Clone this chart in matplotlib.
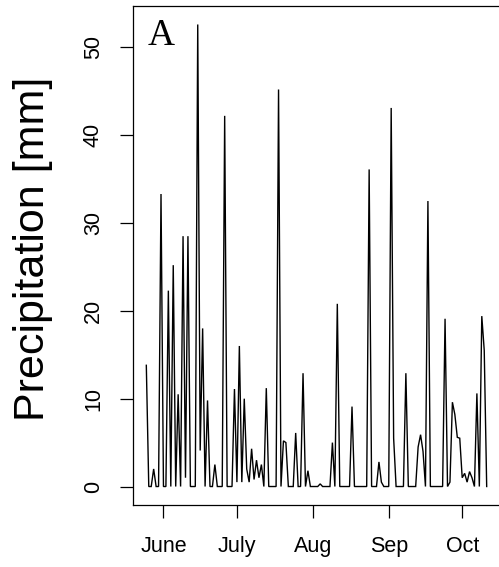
"""Daily precipitation panel (A) redrawn from a reference figure."""

import matplotlib

matplotlib.use("Agg")
import matplotlib.dates as mdates
import matplotlib.pyplot as plt
import pandas as pd

# daily precipitation [mm], one value per day starting at START_DATE
START_DATE = "2013-05-25"
precip_mm = [
    13.8, 0.0, 0.0, 2.0, 0.0, 0.0, 33.3, 0.0, 0.0, 22.3,
    0.0, 25.2, 0.0, 10.5, 0.0, 28.5, 1.0, 28.5, 0.0, 0.0,
    0.0, 52.6, 4.1, 18.0, 0.0, 9.8, 0.0, 0.0, 2.5, 0.0,
    0.0, 0.0, 42.2, 0.0, 0.0, 0.0, 11.1, 0.5, 16.0, 0.5,
    10.0, 2.0, 0.5, 4.3, 0.8, 3.0, 1.0, 2.5, 0.0, 11.2,
    0.0, 0.0, 0.0, 0.0, 45.2, 0.0, 5.2, 5.0, 0.0, 0.0,
    0.0, 6.1, 0.0, 0.0, 12.9, 0.0, 1.8, 0.0, 0.0, 0.0,
    0.0, 0.3, 0.0, 0.0, 0.0, 0.0, 5.0, 0.0, 20.8, 0.0,
    0.0, 0.0, 0.0, 0.0, 9.1, 0.0, 0.0, 0.0, 0.0, 0.0,
    0.0, 36.1, 0.0, 0.0, 0.0, 2.8, 0.5, 0.0, 0.0, 0.0,
    43.1, 5.5, 0.0, 0.0, 0.0, 0.0, 12.9, 0.0, 0.0, 0.0,
    0.0, 4.5, 5.9, 4.0, 0.0, 32.5, 0.0, 0.0, 0.0, 0.0,
    0.0, 0.0, 19.1, 0.0, 0.5, 9.6, 8.2, 5.6, 5.5, 1.0,
    1.5, 0.5, 1.7, 1.0, 0.0, 10.6, 0.0, 19.4, 15.5, 0.0,
]
month_ticks = ["2013-06-01", "2013-07-01", "2013-08-01", "2013-09-01", "2013-10-01"]
month_labels = ["June", "July", "Aug", "Sep", "Oct"]
y_ticks = [0, 10, 20, 30, 40, 50]
y_label = "Precipitation [mm]"
panel_label = "A"

W, H = 499, 567
SANS = ["Liberation Sans", "DejaVu Sans"]
SERIF = ["Liberation Serif", "DejaVu Serif"]


def main() -> int:
    dates = pd.date_range(START_DATE, periods=len(precip_mm), freq="D")
    x = mdates.date2num(dates.to_pydatetime())

    fig = plt.figure(figsize=(W / 100, H / 100), dpi=100)
    # axes box in pixels: left 132.7, right 500.3, top 6, bottom 505
    ax = fig.add_axes([132.7 / W, 1 - 505 / H, (500.3 - 132.7) / W, (505 - 6) / H])

    ax.plot(x, precip_mm, color="black", linewidth=1.0, solid_joinstyle="miter")

    # R style 4% padding on both axes
    x_pad = 0.04 * (x[-1] - x[0])
    ax.set_xlim(x[0] - x_pad, x[-1] + x_pad)
    y_max = max(precip_mm)
    ax.set_ylim(-0.04 * y_max, 1.04 * y_max)

    ax.set_xticks(mdates.date2num(pd.to_datetime(month_ticks).to_pydatetime()))
    ax.set_xticklabels(month_labels, family=SANS, fontsize=15.5)
    ax.set_yticks(y_ticks)
    ax.set_yticklabels([str(v) for v in y_ticks], family=SANS, fontsize=15.5,
                       rotation=90, va="center")
    ax.tick_params(axis="x", length=9.7, width=0.9, pad=12.5, color="black")
    ax.tick_params(axis="y", length=9.7, width=0.9, pad=11, color="black")
    for spine in ax.spines.values():
        spine.set_linewidth(0.9)
        spine.set_color("black")

    fig.text(33 / W, 1 - 249 / H, y_label, rotation=90, ha="center", va="center",
             family=SANS, fontsize=31)
    fig.text(148 / W, 1 - 45 / H, panel_label, ha="left", va="baseline",
             family=SERIF, fontsize=27)

    fig.savefig("out.png", dpi=100)
    plt.close(fig)
    return 0


if __name__ == "__main__":
    raise SystemExit(main())
